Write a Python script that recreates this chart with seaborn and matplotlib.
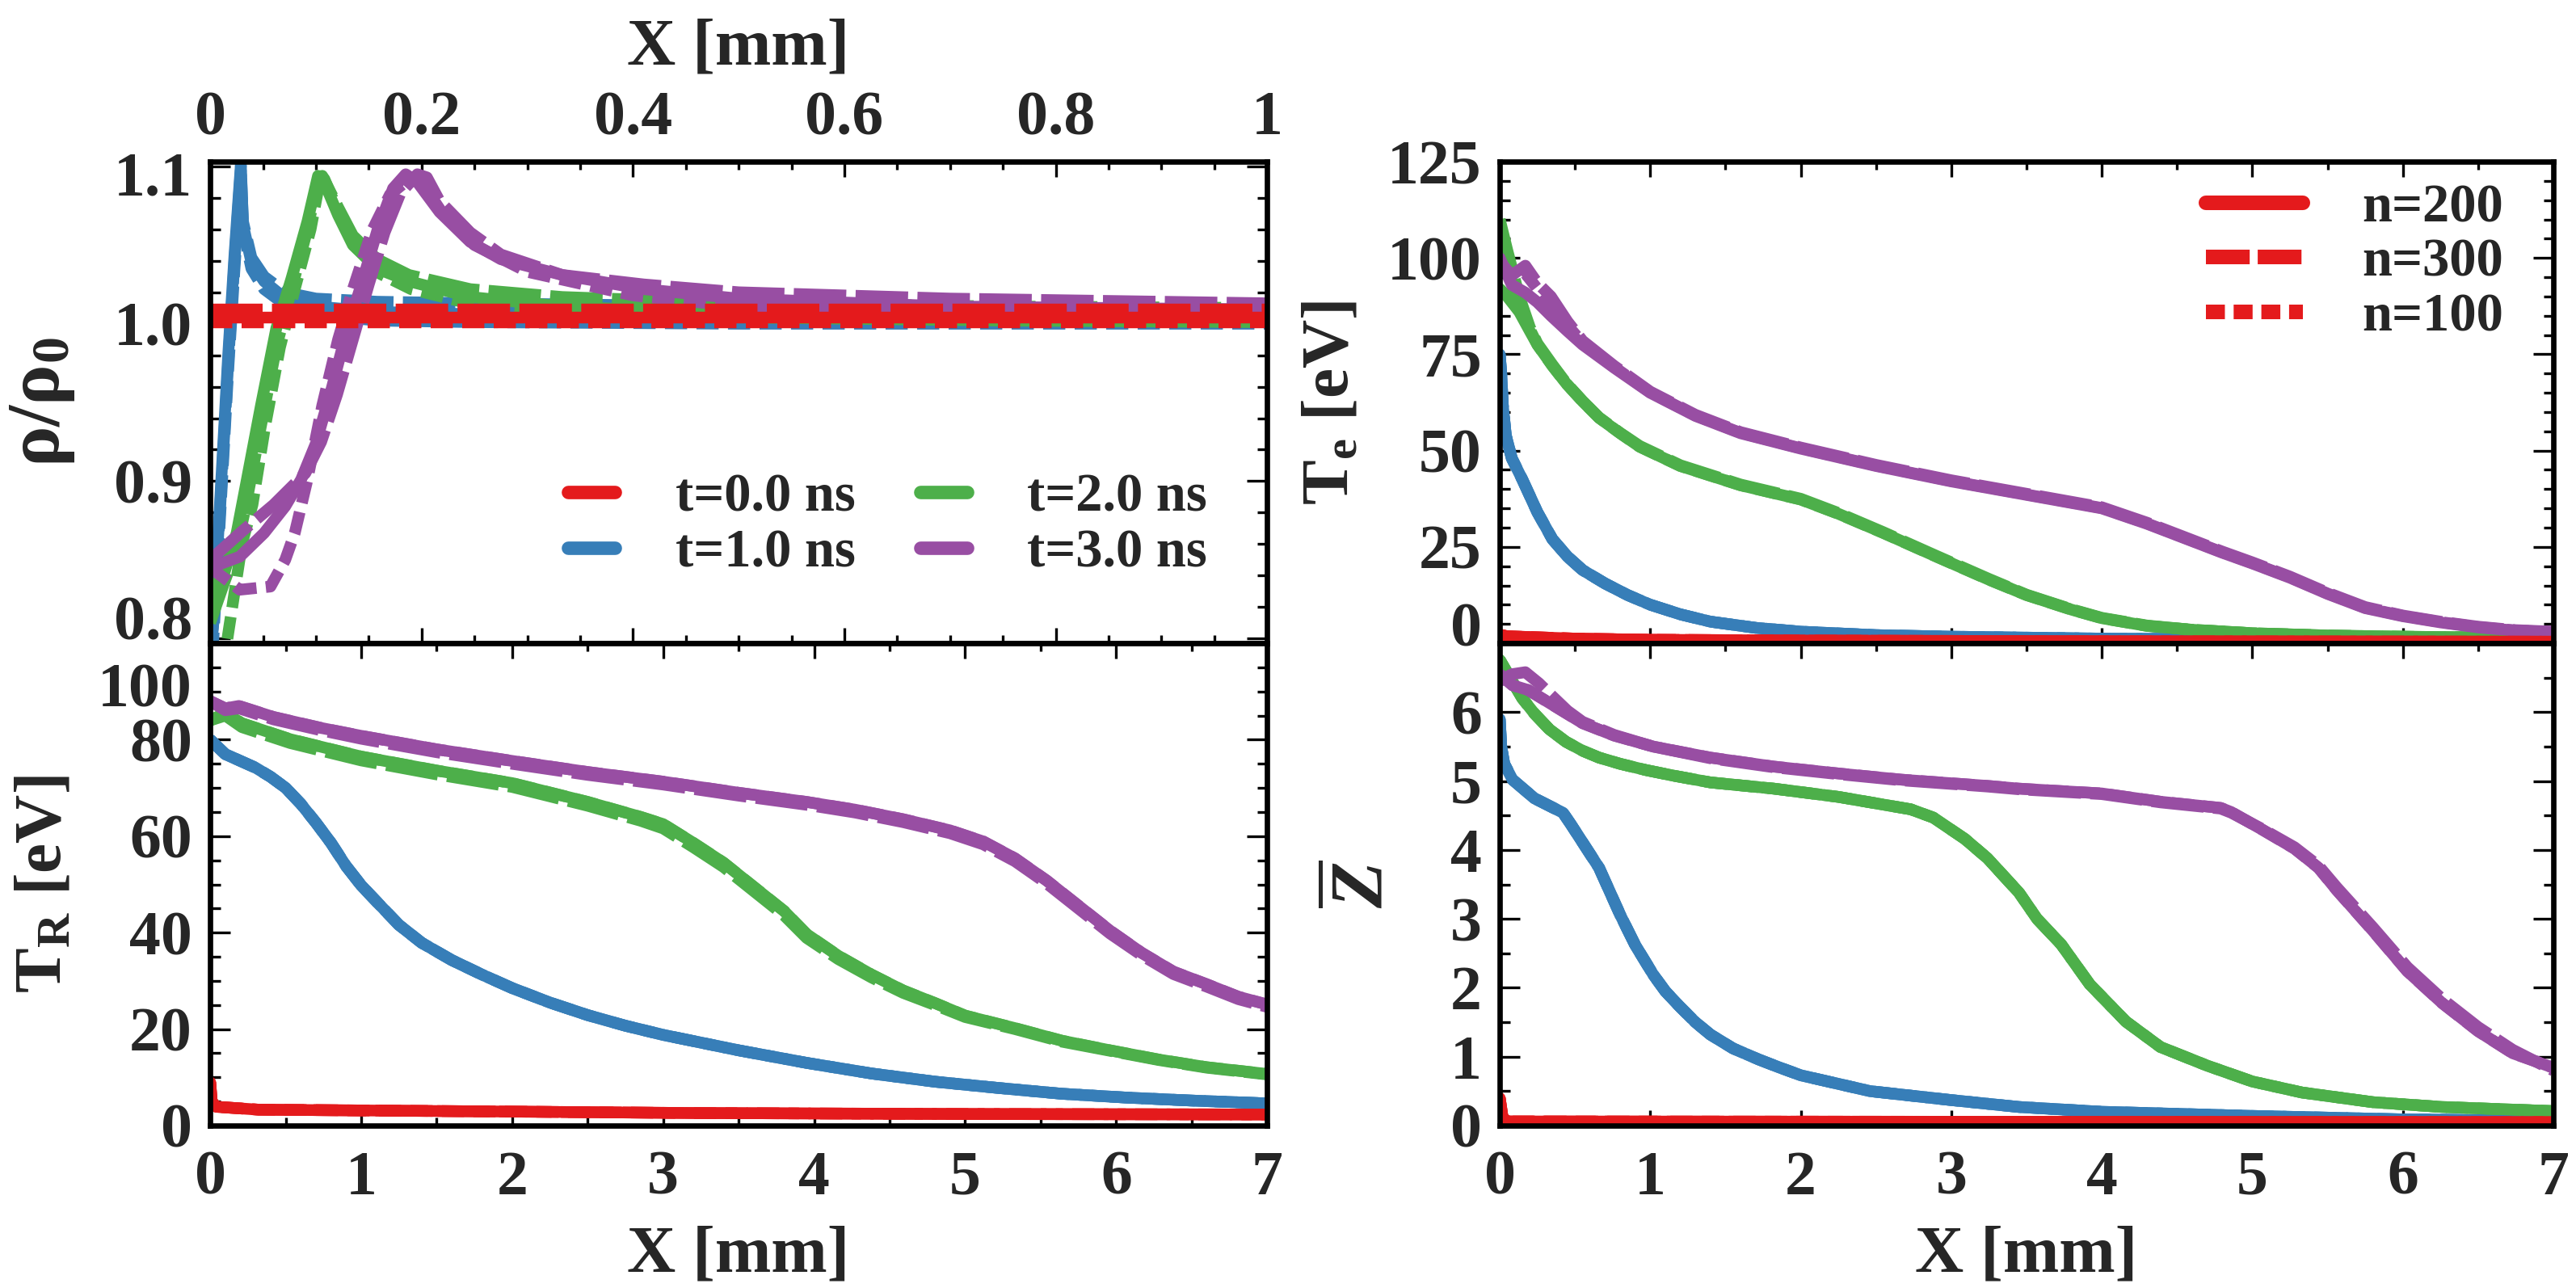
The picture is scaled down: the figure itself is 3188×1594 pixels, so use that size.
import numpy as np
import pandas as pd
import seaborn as sns
import matplotlib.pyplot as plt
from matplotlib.ticker import MultipleLocator, FixedLocator, FuncFormatter
from matplotlib.transforms import ScaledTranslation

# ---------------- data ----------------
# rho/rho0 vs X (0-1 mm), three resolutions: n=200 (solid), n=300 (dashed), n=100 (dotted)
rho_red_x = [0.0, 1.0]
rho_red_200 = [1.004, 1.004]
rho_red_300 = [1.009, 1.009]
rho_red_100 = [1.001, 1.001]

rho_blue_x = [0.0, 0.003, 0.010, 0.017, 0.023, 0.029, 0.031, 0.039, 0.051, 0.071, 0.10, 0.158, 0.25, 0.5, 1.0]
rho_blue_200 = [0.79, 0.81, 0.895, 0.98, 1.044, 1.101, 1.063, 1.039, 1.027, 1.016, 1.011, 1.0075, 1.006, 1.005, 1.004]
rho_blue_300 = [0.79, 0.81, 0.89, 0.975, 1.04, 1.098, 1.065, 1.042, 1.030, 1.020, 1.016, 1.014, 1.013, 1.011, 1.009]
rho_blue_100 = [0.79, 0.80, 0.885, 0.97, 1.035, 1.095, 1.060, 1.035, 1.022, 1.012, 1.006, 1.002, 1.001, 1.0, 1.0]

rho_green_x = [0.0, 0.013, 0.025, 0.033, 0.048, 0.0625, 0.077, 0.092, 0.102, 0.106, 0.121, 0.135, 0.158,
               0.188, 0.246, 0.333, 0.5, 0.75, 1.0]
rho_green_200 = [0.83, 0.841, 0.867, 0.895, 0.948, 0.997, 1.029, 1.065, 1.094, 1.093, 1.069, 1.050, 1.035,
                 1.027, 1.017, 1.011, 1.006, 1.004, 1.003]
rho_green_300 = [0.81, 0.835, 0.857, 0.882, 0.935, 0.985, 1.022, 1.060, 1.092, 1.094, 1.074, 1.056, 1.041,
                 1.031, 1.022, 1.017, 1.013, 1.011, 1.010]
rho_green_x100 = [0.012, 0.017, 0.030, 0.040, 0.052, 0.066, 0.080, 0.095, 0.104, 0.108, 0.123, 0.140, 0.160,
                  0.190, 0.250, 0.333, 0.5, 0.75, 1.0]
rho_green_100 = [0.78, 0.803, 0.86, 0.885, 0.935, 0.985, 1.022, 1.060, 1.092, 1.092, 1.068, 1.048, 1.032,
                 1.022, 1.012, 1.007, 1.004, 1.002, 1.001]

rho_purple_x = [0.0, 0.028, 0.051, 0.071, 0.086, 0.100, 0.115, 0.129, 0.144, 0.158, 0.173, 0.185, 0.196,
                0.217, 0.246, 0.275, 0.333, 0.41, 0.5, 0.7, 1.0]
rho_purple_200 = [0.845, 0.852, 0.867, 0.884, 0.901, 0.924, 0.959, 0.995, 1.027, 1.059, 1.086, 1.095, 1.090,
                  1.071, 1.052, 1.041, 1.031, 1.022, 1.016, 1.011, 1.009]
rho_purple_x300 = [0.0, 0.03, 0.06, 0.09, 0.105, 0.12, 0.135, 0.15, 0.165, 0.18, 0.196, 0.205, 0.217, 0.246,
                   0.275, 0.333, 0.41, 0.5, 0.7, 1.0]
rho_purple_300 = [0.85, 0.868, 0.885, 0.905, 0.925, 0.955, 0.99, 1.025, 1.058, 1.083, 1.095, 1.093, 1.078,
                  1.058, 1.044, 1.031, 1.025, 1.020, 1.016, 1.013]
rho_purple_x100 = [0.0, 0.028, 0.057, 0.071, 0.080, 0.092, 0.106, 0.121, 0.135, 0.153, 0.170, 0.190, 0.200,
                   0.220, 0.250, 0.300, 0.400, 0.5, 0.7, 1.0]
rho_purple_100 = [0.845, 0.831, 0.833, 0.850, 0.867, 0.901, 0.948, 0.990, 1.022, 1.059, 1.082, 1.093, 1.090,
                  1.070, 1.050, 1.033, 1.018, 1.011, 1.006, 1.004]

# radiation temperature T_R [eV] vs X (0-7 mm)
tr_red_x = [0.0, 0.01, 0.04, 0.32, 2.0, 3.2, 5.0, 7.0]
tr_red = [9.0, 5.0, 3.9, 3.3, 2.9, 2.6, 2.4, 2.3]
tr_blue_x = [0.0, 0.1, 0.2, 0.3, 0.4, 0.5, 0.6, 0.7, 0.8, 0.9, 1.0, 1.1, 1.25, 1.4, 1.6, 1.8, 2.0, 2.25,
             2.5, 2.75, 3.0, 3.5, 3.95, 4.38, 4.8, 5.22, 5.64, 6.07, 6.49, 7.0]
tr_blue = [80.0, 77.0, 75.6, 74.2, 72.3, 70.0, 66.7, 62.8, 58.6, 53.8, 49.8, 46.5, 41.6, 37.9, 34.3, 31.3,
           28.5, 25.5, 22.9, 20.7, 18.8, 15.6, 13.0, 10.8, 9.1, 7.8, 6.6, 5.8, 5.2, 4.6]
tr_green_x = [0.0, 0.1, 0.21, 0.53, 1.0, 1.5, 2.0, 2.5, 2.85, 3.0, 3.2, 3.4, 3.6, 3.8, 3.95, 4.16, 4.38, 4.59,
              4.8, 5.0, 5.33, 5.64, 5.96, 6.28, 6.6, 7.0]
tr_green = [84.0, 85.5, 83.4, 80.1, 76.5, 73.6, 71.0, 67.1, 64.0, 62.5, 58.6, 54.5, 49.5, 44.5, 39.7, 35.2,
            31.3, 28.0, 25.4, 22.8, 20.2, 17.6, 15.6, 13.7, 12.1, 10.7]
tr_green_300 = [84.0, 85.0, 82.6, 79.3, 75.7, 72.8, 70.2, 66.3, 63.2, 61.6, 57.7, 53.6, 48.6, 43.6, 38.9,
                34.5, 30.7, 27.5, 25.0, 22.5, 20.0, 17.4, 15.5, 13.6, 12.0, 10.6]
tr_purple_x = [0.0, 0.1, 0.19, 0.42, 0.74, 1.0, 1.5, 2.0, 2.5, 3.0, 3.5, 3.95, 4.27, 4.59, 4.9, 5.12, 5.33,
               5.54, 5.75, 5.96, 6.17, 6.38, 6.6, 6.81, 7.0]
tr_purple = [88.0, 86.5, 87.0, 84.7, 82.4, 80.8, 78.0, 75.6, 73.3, 71.3, 69.0, 67.1, 65.5, 63.5, 61.2, 58.9,
             55.4, 50.8, 45.6, 40.4, 35.8, 31.9, 29.3, 26.7, 25.1]
tr_purple_300 = [88.0, 86.1, 86.5, 84.2, 81.9, 80.2, 77.4, 75.0, 72.7, 70.7, 68.4, 66.5, 64.9, 62.9, 60.6,
                 58.3, 54.8, 50.2, 45.0, 39.8, 35.3, 31.4, 28.8, 26.2, 24.6]

# electron temperature T_e [eV] vs X
te_red_x = [0.0, 0.05, 0.5, 1.0, 2.0, 4.0, 7.0]
te_red = [2.2, 1.8, 1.2, 0.9, 0.7, 0.5, 0.4]
te_blue_x = [0.0, 0.01, 0.02, 0.04, 0.08, 0.15, 0.25, 0.35, 0.45, 0.55, 0.7, 0.85, 1.0, 1.2, 1.4, 1.7, 2.0,
             2.5, 3.0, 4.0, 5.0, 7.0]
te_blue = [75.0, 70.0, 62.0, 54.0, 48.0, 42.5, 34.0, 27.0, 22.5, 19.0, 15.5, 12.5, 10.0, 7.5, 5.6, 4.0, 3.0,
           2.1, 1.7, 1.2, 1.0, 0.7]
te_green_x = [0.0, 0.05, 0.13, 0.2, 0.25, 0.35, 0.44, 0.55, 0.66, 0.8, 0.93, 1.2, 1.6, 2.0, 2.25, 2.55, 2.9,
              3.25, 3.5, 3.8, 4.0, 4.3, 4.6, 5.0, 5.5, 6.0, 6.5, 7.0]
te_green = [92.0, 90.0, 86.0, 81.0, 77.5, 72.0, 67.5, 62.8, 58.5, 54.5, 51.0, 46.0, 41.0, 37.3, 33.6, 28.6,
            22.5, 16.5, 12.5, 8.7, 6.5, 4.5, 3.5, 2.6, 2.0, 1.7, 1.5, 1.2]
te_green_300 = [110.0, 102.0, 90.0, 82.0, 77.8, 72.3, 67.6, 62.9, 58.6, 54.6, 51.2, 46.2, 41.2, 37.5, 33.8,
                28.8, 22.7, 16.7, 12.6, 8.8, 6.6, 4.6, 3.5, 2.6, 2.0, 1.7, 1.5, 1.2]
te_green_100 = [104.0, 97.0, 88.0, 81.5, 77.5, 72.0, 67.5, 62.8, 58.5, 54.5, 51.0, 46.0, 41.0, 37.3, 33.6,
                28.6, 22.5, 16.5, 12.5, 8.7, 6.5, 4.5, 3.5, 2.6, 2.0, 1.7, 1.5, 1.2]
te_purple_x = [0.0, 0.08, 0.17, 0.25, 0.34, 0.45, 0.55, 0.76, 1.0, 1.3, 1.6, 2.0, 2.5, 3.0, 3.5, 4.0, 4.3,
               4.5, 4.8, 5.0, 5.25, 5.5, 5.75, 6.0, 6.25, 6.5, 6.75, 7.0]
te_purple = [100.0, 93.0, 91.0, 88.5, 85.0, 81.0, 77.5, 71.5, 65.0, 59.0, 54.5, 50.5, 46.0, 42.0, 38.5, 35.0,
             31.0, 28.0, 23.5, 20.7, 17.0, 12.8, 9.1, 7.0, 5.4, 4.1, 3.3, 2.9]
te_purple_300 = [99.0, 95.5, 98.0, 93.5, 90.0, 83.5, 78.5, 72.0, 65.3, 59.3, 54.8, 50.8, 46.3, 42.3, 38.8,
                 35.3, 31.3, 28.3, 23.8, 21.0, 17.3, 13.1, 9.4, 7.2, 5.6, 4.3, 3.4, 3.0]
te_purple_100 = [99.0, 94.5, 96.0, 92.0, 88.0, 82.5, 78.0, 71.7, 65.1, 59.1, 54.6, 50.6, 46.1, 42.1, 38.6,
                 35.1, 31.1, 28.1, 23.6, 20.8, 17.1, 12.9, 9.2, 7.1, 5.5, 4.2, 3.3, 2.9]

# mean ionisation Z vs X
z_red_x = [0.0, 0.02, 0.06, 7.0]
z_red = [0.4, 0.1, 0.06, 0.05]
z_blue_x = [0.0, 0.01, 0.03, 0.085, 0.23, 0.42, 0.47, 0.66, 0.8, 0.9, 1.02, 1.1, 1.19, 1.3, 1.4, 1.55, 1.72,
            1.85, 2.0, 2.46, 3.0, 3.45, 4.0, 5.0, 6.0, 7.0]
z_blue = [5.9, 5.5, 5.25, 5.02, 4.75, 4.54, 4.38, 3.74, 3.06, 2.62, 2.19, 1.95, 1.74, 1.5, 1.32, 1.12, 0.96,
          0.85, 0.73, 0.5, 0.37, 0.27, 0.2, 0.14, 0.09, 0.07]
z_green_x = [0.0, 0.085, 0.15, 0.23, 0.33, 0.44, 0.55, 0.66, 0.8, 0.97, 1.15, 1.4, 1.82, 2.25, 2.73, 2.88,
             3.09, 3.24, 3.45, 3.57, 3.73, 3.92, 4.16, 4.39, 4.7, 5.0, 5.33, 5.8, 6.26, 7.0]
z_green = [6.76, 6.44, 6.2, 5.98, 5.75, 5.57, 5.44, 5.34, 5.25, 5.16, 5.08, 4.98, 4.89, 4.77, 4.59, 4.47,
           4.16, 3.88, 3.38, 3.0, 2.63, 2.05, 1.51, 1.14, 0.87, 0.64, 0.48, 0.34, 0.27, 0.21]
z_purple_x = [0.0, 0.085, 0.19, 0.34, 0.55, 0.76, 1.02, 1.4, 1.82, 2.25, 2.67, 3.24, 3.45, 4.0, 4.39, 4.79,
              4.86, 5.07, 5.28, 5.44, 5.56, 5.8, 6.03, 6.26, 6.5, 6.73, 7.0]
z_purple = [6.55, 6.39, 6.32, 6.12, 5.84, 5.66, 5.50, 5.34, 5.21, 5.11, 5.02, 4.93, 4.89, 4.82, 4.70, 4.61,
            4.55, 4.29, 4.02, 3.74, 3.42, 2.83, 2.24, 1.78, 1.37, 1.05, 0.84]
z_purple_x300 = [0.0, 0.08, 0.17, 0.26, 0.34, 0.45, 0.55, 0.76, 1.02, 1.4, 1.82, 2.25, 2.67, 3.24, 3.45,
                 4.0, 4.39, 4.79, 4.86, 5.07, 5.28, 5.44, 5.56, 5.8, 6.03, 6.26, 6.5, 6.73, 7.0]
z_purple_300 = [6.45, 6.55, 6.58, 6.42, 6.25, 6.02, 5.86, 5.67, 5.50, 5.33, 5.20, 5.10, 5.01, 4.92, 4.88,
                4.81, 4.69, 4.60, 4.54, 4.30, 4.04, 3.77, 3.46, 2.88, 2.30, 1.84, 1.43, 1.10, 0.80]

time_labels = ["t=0.0 ns", "t=1.0 ns", "t=2.0 ns", "t=3.0 ns"]
res_labels = ["n=200", "n=300", "n=100"]

# ---------------- style ----------------
sns.set_theme(style="ticks")
plt.rcParams["font.family"] = ["Liberation Serif", "DejaVu Serif"]
plt.rcParams["font.weight"] = "bold"
plt.rcParams["axes.labelweight"] = "bold"
plt.rcParams["mathtext.fontset"] = "custom"
plt.rcParams["mathtext.rm"] = "Liberation Serif:bold"
plt.rcParams["mathtext.bf"] = "Liberation Serif:bold"
plt.rcParams["mathtext.it"] = "Liberation Serif:bold:italic"
plt.rcParams["mathtext.default"] = "rm"

pal = sns.color_palette("Set1")
red, blue, green, purple = pal[0], pal[1], pal[2], pal[3]
styles = ["-", (0, (4.5, 0.8)), (0, (1.9, 0.8))]
legend_styles = ["-", (0, (3.0, 0.55)), (0, (1.3, 0.6))]
LW = 5.2
TICK_FS = 28
LABEL_FS = 30
LEG_FS = 24


def draw(ax, x, y, color, ls, label=None):
    sns.lineplot(x=x, y=y, ax=ax, color=color, linestyle=ls, lw=LW,
                 estimator=None, label=label, legend=False)


fig = plt.figure(figsize=(15.94, 7.97), dpi=200)
ax_rho = fig.add_axes([0.0816, 0.5006, 0.4103, 0.3739])
ax_tr = fig.add_axes([0.0816, 0.1261, 0.4103, 0.3745])
ax_te = fig.add_axes([0.5822, 0.5006, 0.4090, 0.3739])
ax_z = fig.add_axes([0.5822, 0.1261, 0.4090, 0.3745])

# --- rho panel ---
draw(ax_rho, rho_blue_x, rho_blue_200, blue, styles[0], time_labels[1])
draw(ax_rho, rho_blue_x, rho_blue_300, blue, styles[1])
draw(ax_rho, rho_blue_x, rho_blue_100, blue, styles[2])
draw(ax_rho, rho_green_x, rho_green_200, green, styles[0], time_labels[2])
draw(ax_rho, rho_green_x, rho_green_300, green, styles[1])
draw(ax_rho, rho_green_x100, rho_green_100, green, styles[2])
draw(ax_rho, rho_purple_x, rho_purple_200, purple, styles[0], time_labels[3])
draw(ax_rho, rho_purple_x300, rho_purple_300, purple, styles[1])
draw(ax_rho, rho_purple_x100, rho_purple_100, purple, styles[2])
draw(ax_rho, rho_red_x, rho_red_200, red, styles[0], time_labels[0])
draw(ax_rho, rho_red_x, rho_red_300, red, styles[1])
draw(ax_rho, rho_red_x, rho_red_100, red, styles[2])

# --- T_R panel ---
for s in styles:
    draw(ax_tr, tr_blue_x, tr_blue, blue, s)
draw(ax_tr, tr_green_x, tr_green, green, styles[0])
draw(ax_tr, tr_green_x, tr_green_300, green, styles[1])
draw(ax_tr, tr_green_x, tr_green, green, styles[2])
draw(ax_tr, tr_purple_x, tr_purple, purple, styles[0])
draw(ax_tr, tr_purple_x, tr_purple_300, purple, styles[1])
draw(ax_tr, tr_purple_x, tr_purple, purple, styles[2])
for s in styles:
    draw(ax_tr, tr_red_x, tr_red, red, s)

# --- T_e panel ---
for s in styles:
    draw(ax_te, te_blue_x, te_blue, blue, s)
draw(ax_te, te_green_x, te_green, green, styles[0])
draw(ax_te, te_green_x, te_green_300, green, styles[1])
draw(ax_te, te_green_x, te_green_100, green, styles[2])
draw(ax_te, te_purple_x, te_purple, purple, styles[0])
draw(ax_te, te_purple_x, te_purple_300, purple, styles[1])
draw(ax_te, te_purple_x, te_purple_100, purple, styles[2])
for s, lab in zip(styles, res_labels):
    draw(ax_te, te_red_x, te_red, red, s, lab)

# --- Z panel ---
for s in styles:
    draw(ax_z, z_blue_x, z_blue, blue, s)
for s in styles:
    draw(ax_z, z_green_x, z_green, green, s)
draw(ax_z, z_purple_x, z_purple, purple, styles[0])
draw(ax_z, z_purple_x300, z_purple_300, purple, styles[1])
draw(ax_z, z_purple_x, z_purple, purple, styles[2])
for s in styles:
    draw(ax_z, z_red_x, z_red, red, s)

# ---------------- axes cosmetics ----------------
for ax in (ax_rho, ax_tr, ax_te, ax_z):
    for sp in ax.spines.values():
        sp.set_linewidth(2.4)
        sp.set_color("black")
    ax.tick_params(which="both", direction="in", top=True, right=True, bottom=True, left=True,
                   width=1.2, color="black", labelsize=TICK_FS)
    ax.tick_params(axis="x", which="major", length=7, pad=11)
    ax.tick_params(axis="x", which="minor", length=3.5)
    ax.tick_params(axis="y", which="major", length=9, pad=8)
    ax.tick_params(axis="y", which="minor", length=4.5)
    ax.set_xlabel("")
    ax.set_ylabel("")

fmt_g = FuncFormatter(lambda v, p: f"{v:g}")

ax_rho.set_xlim(0, 1)
ax_rho.set_ylim(0.797, 1.103)
ax_rho.xaxis.set_major_locator(MultipleLocator(0.2))
ax_rho.xaxis.set_minor_locator(MultipleLocator(0.05))
ax_rho.xaxis.set_major_formatter(fmt_g)
ax_rho.yaxis.set_major_locator(FixedLocator([0.8, 0.9, 1.0, 1.1]))
ax_rho.yaxis.set_minor_locator(MultipleLocator(0.02))
ax_rho.yaxis.set_major_formatter(FuncFormatter(lambda v, p: f"{v:.1f}"))
ax_rho.tick_params(axis="x", labelbottom=False, labeltop=True, pad=6)
ax_rho.xaxis.set_label_position("top")
ax_rho.set_xlabel("X [mm]", fontsize=LABEL_FS, labelpad=12)
ax_rho.set_ylabel(r"$\rho/\rho_0$", fontsize=LABEL_FS + 4)
ax_rho.yaxis.set_label_coords(-0.126, 0.5)

for ax in (ax_tr, ax_te, ax_z):
    ax.set_xlim(0, 7)
    ax.xaxis.set_major_locator(MultipleLocator(1))
    ax.xaxis.set_minor_locator(MultipleLocator(0.5))
    ax.xaxis.set_major_formatter(fmt_g)

ax_tr.set_ylim(0, 100)
ax_tr.yaxis.set_major_locator(MultipleLocator(20))
ax_tr.yaxis.set_minor_locator(MultipleLocator(5))
ax_tr.yaxis.set_major_formatter(fmt_g)
ax_tr.set_xlabel("X [mm]", fontsize=LABEL_FS, labelpad=8)
ax_tr.set_ylabel(r"T$_\mathrm{R}$ [eV]", fontsize=LABEL_FS)
ax_tr.yaxis.set_label_coords(-0.128, 0.5)

ax_te.set_ylim(0, 125)
ax_te.yaxis.set_major_locator(MultipleLocator(25))
ax_te.yaxis.set_minor_locator(MultipleLocator(5))
ax_te.yaxis.set_major_formatter(fmt_g)
ax_te.tick_params(axis="x", labelbottom=False)
ax_te.set_ylabel(r"T$_\mathrm{e}$ [eV]", fontsize=LABEL_FS)
ax_te.yaxis.set_label_coords(-0.13, 0.5)

ax_z.set_ylim(0, 7)
ax_z.yaxis.set_major_locator(FixedLocator([0, 1, 2, 3, 4, 5, 6]))
ax_z.yaxis.set_minor_locator(MultipleLocator(0.5))
ax_z.yaxis.set_major_formatter(fmt_g)
ax_z.set_xlabel("X [mm]", fontsize=LABEL_FS, labelpad=8)
ax_z.set_ylabel(r"$\overline{\mathit{Z}}$", fontsize=LABEL_FS + 4)
ax_z.yaxis.set_label_coords(-0.095, 0.5)

# legends
h1, l1 = ax_rho.get_legend_handles_labels()
order = [l1.index(t) for t in time_labels]
leg1 = ax_rho.legend([h1[i] for i in order], [l1[i] for i in order], loc="center",
                     bbox_to_anchor=(0.641, 0.245), ncol=2, frameon=False, fontsize=LEG_FS,
                     handlelength=0.87, handletextpad=1.12, columnspacing=1.2, labelspacing=0.12,
                     borderpad=0)
for h in leg1.legend_handles:
    h.set_linewidth(6)

leg2 = ax_te.legend(loc="center right", bbox_to_anchor=(0.9785, 0.79), frameon=False, fontsize=LEG_FS,
                    handlelength=1.79, handletextpad=1.11, labelspacing=0.1, borderpad=0)
for h, s in zip(leg2.legend_handles, legend_styles):
    h.set_linewidth(6.5)
    h.set_linestyle(s)

# keep the end labels inside the panels, as in the original
fig.canvas.draw()


def nudge(ax, value, dy_px):
    for t in ax.yaxis.get_major_ticks():
        if abs(t.get_loc() - value) < 1e-6:
            t.label1.set_transform(t.label1.get_transform()
                                   + ScaledTranslation(0, dy_px / 200, fig.dpi_scale_trans))


nudge(ax_rho, 0.8, 26)
nudge(ax_rho, 1.1, -9)
nudge(ax_tr, 100, -51)
nudge(ax_te, 0, 24)

fig.savefig("out.png", dpi=200, facecolor="white")
